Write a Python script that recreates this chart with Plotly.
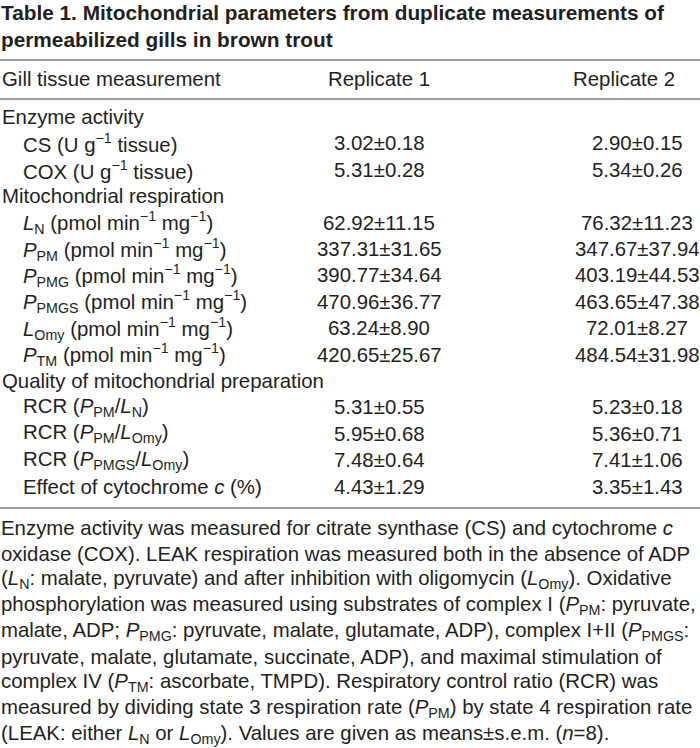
import plotly.graph_objects as go

title_lines = [
    "Table 1. Mitochondrial parameters from duplicate measurements of",
    "permeabilized gills in brown trout",
]
col_headers = ["Gill tissue measurement", "Replicate 1", "Replicate 2"]

groups = ["Enzyme activity", "Mitochondrial respiration", "Quality of mitochondrial preparation"]

row_labels = [
    ["CS (U g<sup>−1</sup> tissue)", "COX (U g<sup>−1</sup> tissue)"],
    ["<i>L</i><sub>N</sub> (pmol min<sup>−1</sup> mg<sup>−1</sup>)",
     "<i>P</i><sub>PM</sub> (pmol min<sup>−1</sup> mg<sup>−1</sup>)",
     "<i>P</i><sub>PMG</sub> (pmol min<sup>−1</sup> mg<sup>−1</sup>)",
     "<i>P</i><sub>PMGS</sub> (pmol min<sup>−1</sup> mg<sup>−1</sup>)",
     "<i>L</i><sub>Omy</sub> (pmol min<sup>−1</sup> mg<sup>−1</sup>)",
     "<i>P</i><sub>TM</sub> (pmol min<sup>−1</sup> mg<sup>−1</sup>)"],
    ["RCR (<i>P</i><sub>PM</sub>/<i>L</i><sub>N</sub>)",
     "RCR (<i>P</i><sub>PM</sub>/<i>L</i><sub>Omy</sub>)",
     "RCR (<i>P</i><sub>PMGS</sub>/<i>L</i><sub>Omy</sub>)",
     "Effect of cytochrome <i>c</i> (%)"],
]

rep1_mean = [[3.02, 5.31], [62.92, 337.31, 390.77, 470.96, 63.24, 420.65], [5.31, 5.95, 7.48, 4.43]]
rep1_sem = [[0.18, 0.28], [11.15, 31.65, 34.64, 36.77, 8.90, 25.67], [0.55, 0.68, 0.64, 1.29]]
rep2_mean = [[2.90, 5.34], [76.32, 347.67, 403.19, 463.65, 72.01, 484.54], [5.23, 5.36, 7.41, 3.35]]
rep2_sem = [[0.15, 0.26], [11.23, 37.94, 44.53, 47.38, 8.27, 31.98], [0.18, 0.71, 1.06, 1.43]]

footnote_lines = [
    "Enzyme activity was measured for citrate synthase (CS) and cytochrome <i>c</i>",
    "oxidase (COX). LEAK respiration was measured both in the absence of ADP",
    "(<i>L</i><sub>N</sub>: malate, pyruvate) and after inhibition with oligomycin (<i>L</i><sub>Omy</sub>). Oxidative",
    "phosphorylation was measured using substrates of complex I (<i>P</i><sub>PM</sub>: pyruvate,",
    "malate, ADP; <i>P</i><sub>PMG</sub>: pyruvate, malate, glutamate, ADP), complex I+II (<i>P</i><sub>PMGS</sub>:",
    "pyruvate, malate, glutamate, succinate, ADP), and maximal stimulation of",
    "complex IV (<i>P</i><sub>TM</sub>: ascorbate, TMPD). Respiratory control ratio (RCR) was",
    "measured by dividing state 3 respiration rate (<i>P</i><sub>PM</sub>) by state 4 respiration rate",
    "(LEAK: either <i>L</i><sub>N</sub> or <i>L</i><sub>Omy</sub>). Values are given as means±s.e.m. (<i>n</i>=8).",
]

W, H = 700, 748
BODY = "Liberation Sans, Arial, sans-serif"
TITLE = "Liberation Sans Narrow, Arial Narrow, Liberation Sans, sans-serif"
TXT = "#231f20"
FS = 20.4

fig = go.Figure()
ann = []

def add(x, y, text, anchor="left", size=FS, family=BODY, color=TXT):
    ann.append(dict(x=x, y=y, text=text, xref="x", yref="y", showarrow=False,
                    xanchor=anchor, yanchor="middle", borderpad=0,
                    font=dict(family=family, size=size, color=color)))

# title
for i, t in enumerate(title_lines):
    add(0, 12 + i * 27, "<b>" + t + "</b>", size=20.8, family=TITLE, color="#231f20")

# header
hy = 79
add(1, hy, col_headers[0])
add(379, hy, col_headers[1], anchor="center")
add(624, hy, col_headers[2], anchor="center")

y = 117
step = 26.4
for g, labels, m1, s1, m2, s2 in zip(groups, row_labels, rep1_mean, rep1_sem, rep2_mean, rep2_sem):
    add(1, y, g)
    y += step
    for lab, a, b, c, d in zip(labels, m1, s1, m2, s2):
        add(22, y, lab)
        add(379, y, f"{a:.2f}±{b:.2f}", anchor="center")
        add(637, y, f"{c:.2f}±{d:.2f}", anchor="center")
        y += step

fy = 528
for i, t in enumerate(footnote_lines):
    add(0, fy + i * 25.8, t)

rules = [60, 99, 508]
for ry in rules:
    fig.add_shape(type="line", x0=0, x1=700, y0=ry, y1=ry, xref="x", yref="y",
                  line=dict(color="#7f7f7f", width=1.6))

fig.update_layout(
    width=W, height=H, margin=dict(l=0, r=0, t=0, b=0),
    paper_bgcolor="white", plot_bgcolor="white",
    xaxis=dict(range=[0, W], visible=False, fixedrange=True),
    yaxis=dict(range=[H, 0], visible=False, fixedrange=True),
    annotations=ann, showlegend=False,
)
fig.write_html("out.html", config={"displayModeBar": False},
               post_script="document.body.style.margin='0px';document.body.style.overflow='hidden';")
